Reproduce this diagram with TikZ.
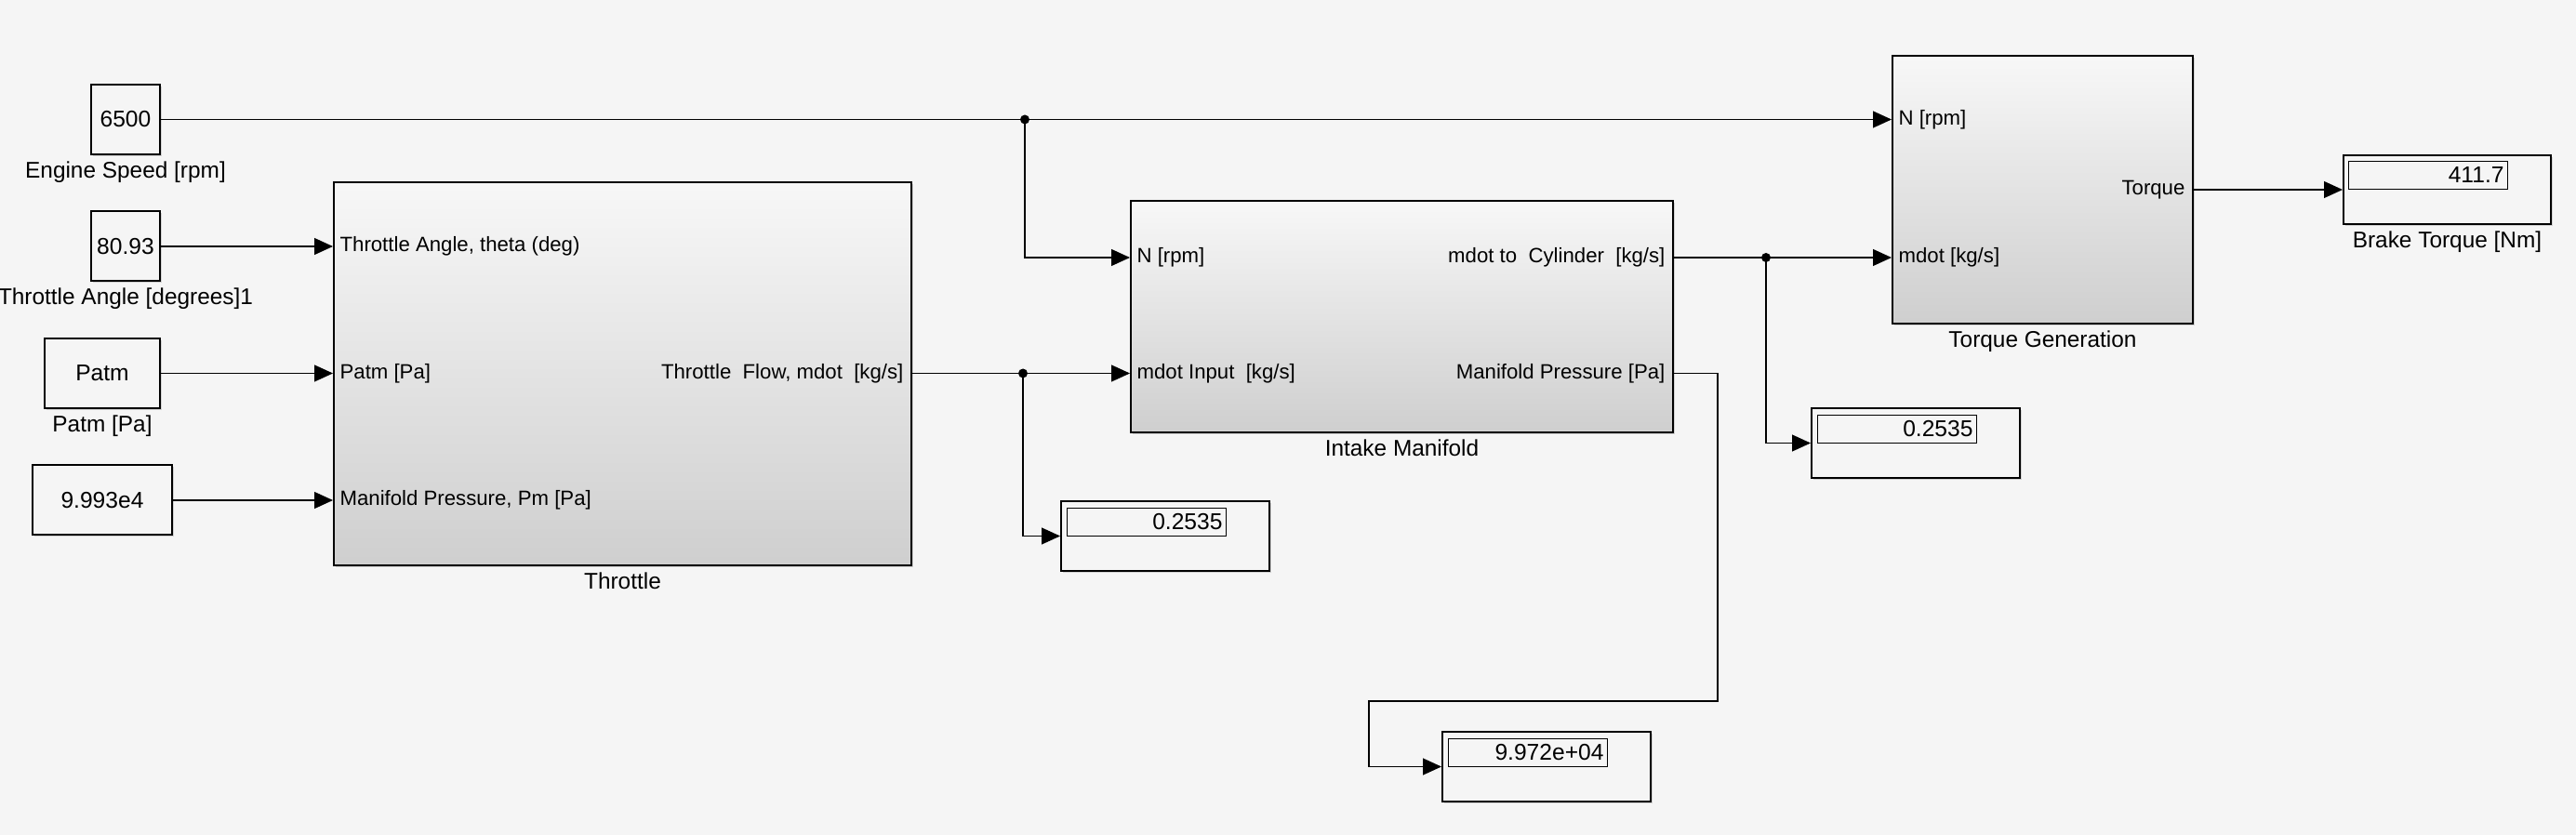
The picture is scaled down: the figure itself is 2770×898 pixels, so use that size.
\documentclass[tikz,border=0pt]{standalone}
\usepackage{fontspec}
\setmainfont{Liberation Sans}
\usetikzlibrary{arrows.meta,shadows,positioning}
\definecolor{canvas}{RGB}{245,245,245}
\colorlet{blocktop}{black!3}
\colorlet{blockmid}{black!7}
\colorlet{blockbot}{black!19}
\newcommand\portfont{\fontsize{11.1}{13}\selectfont}
\newcommand\capfont{\fontsize{12.2}{14}\selectfont}
\newcommand\valfont{\fontsize{12.3}{14}\selectfont}

\begin{document}
\begin{tikzpicture}[x=0.5pt, y=-0.5pt, line width=0.6pt,
    shadowed/.style={drop shadow={shadow xshift=1pt, shadow yshift=-1pt, opacity=0.3}},
    sub block/.style={draw, line width=1pt, anchor=north west, inner sep=0pt, top color=blocktop, middle color=blockmid, bottom color=blockbot, shadowed},
    const block/.style={draw, line width=1pt, fill=canvas, inner sep=0pt, minimum height=37.5pt, font=\valfont, shadowed},
    display/.style={draw, line width=1pt, fill=canvas, anchor=north west, minimum width=112pt, minimum height=37.5pt, inner sep=0pt, shadowed},
    field/.style={draw, line width=0.5pt, fill=canvas, anchor=north west, inner sep=2pt, text width=81.5pt, align=right, minimum height=15pt, font=\valfont},
    caption/.style={font=\capfont, inner sep=0pt},
    port/.style={font=\portfont, inner sep=0pt},
    signal/.style={-{Triangle[length=10pt, width=9pt]}}
  ]
  \fill[canvas] (0,0) rectangle (2770,898);
  \useasboundingbox (0,0) rectangle (2770,898);

  \node[const block, minimum width=37pt] (speed) at (135,128.5) {6500};
  \node[const block, minimum width=37pt] (angle) at (135,265) {80.93};
  \node[const block, minimum width=62pt] (patm) at (110,401.5) {Patm};
  \node[const block, minimum width=75pt] (pm) at (110,538) {9.993e4};

  \node[sub block, minimum width=310.5pt, minimum height=206pt] (thr) at (358,195) {};
  \node[sub block, minimum width=291.5pt, minimum height=124.5pt] (man) at (1215,215) {};
  \node[sub block, minimum width=161.5pt, minimum height=144pt] (tq) at (2034,59) {};

  \node[display] (dmdot) at (1140,538) {};
  \node[display] (dcyl) at (1947,438) {};
  \node[display] (dpm) at (1550,786) {};
  \node[display, minimum width=111.5pt, minimum height=37pt] (dtq) at (2519,166) {};
  \node[field] (dmdotval) at ([xshift=3.5pt, yshift=-4pt]dmdot.north west) {0.2535};
  \node[field] (dcylval) at ([xshift=3.5pt, yshift=-4pt]dcyl.north west) {0.2535};
  \node[field] (dpmval) at ([xshift=3.5pt, yshift=-4pt]dpm.north west) {9.972e+04};
  \node[field] (dtqval) at ([xshift=3pt, yshift=-3.5pt]dtq.north west) {411.7};

  \node[caption, below=3pt of speed] (speedlab) {Engine Speed [rpm]};
  \node[caption, below=3pt of angle] (anglelab) {Throttle Angle [degrees]1};
  \node[caption, below=3pt of patm] (patmlab) {Patm [Pa]};
  \node[caption, below=3pt of thr] (thrlab) {Throttle};
  \node[caption, below=3pt of man] (manlab) {Intake Manifold};
  \node[caption, below=3pt of tq] (tqlab) {Torque Generation};
  \node[caption, below=3pt of dtq] (dtqlab) {Brake Torque [Nm]};

  \coordinate (thr-out) at (thr.east |- patm.east);
  \coordinate (man-n) at (1215,277);
  \coordinate (man-mdot) at (thr-out -| man.west);
  \coordinate (man-cyl) at (man-n -| man.east);
  \coordinate (man-pm) at (man-mdot -| man.east);
  \coordinate (tq-n) at (speed.east -| tq.west);
  \coordinate (tq-mdot) at (man-n -| tq.west);
  \coordinate (tq-out) at (dtq.west -| tq.east);
  \coordinate (jn) at (1102,128.5);
  \coordinate (jm) at (1100,401.5);
  \coordinate (jc) at (1899,277);

  \begin{scope}[every node/.style={port}]
    \node[anchor=west] at ([xshift=3.5pt]angle.east -| thr.west) {Throttle Angle, theta (deg)};
    \node[anchor=west] at ([xshift=3.5pt]patm.east -| thr.west) {Patm [Pa]};
    \node[anchor=west] at ([xshift=3.5pt]pm.east -| thr.west) {Manifold Pressure, Pm [Pa]};
    \node[anchor=east] at ([xshift=-4.5pt]thr-out) {Throttle\ \ Flow, mdot\ \ [kg/s]};
    \node[anchor=west] at ([xshift=3.5pt]man-n) {N [rpm]};
    \node[anchor=west] at ([xshift=3.5pt]man-mdot) {mdot Input\ \ [kg/s]};
    \node[anchor=east] at ([xshift=-4.5pt]man-cyl) {mdot to\ \ Cylinder\ \ [kg/s]};
    \node[anchor=east] at ([xshift=-4.5pt]man-pm) {Manifold Pressure [Pa]};
    \node[anchor=west] at ([xshift=3.5pt]tq-n) {N [rpm]};
    \node[anchor=west] at ([xshift=3.5pt]tq-mdot) {mdot [kg/s]};
    \node[anchor=east] at ([xshift=-4.5pt]tq-out) {Torque};
  \end{scope}

  \draw[signal] (speed.east) -- (tq-n);
  \draw[signal] (jn) |- (man-n);
  \draw[signal] (angle.east) -- (angle.east -| thr.west);
  \draw[signal] (patm.east) -- (patm.east -| thr.west);
  \draw[signal] (pm.east) -- (pm.east -| thr.west);
  \draw[signal] (thr-out) -- (man-mdot);
  \draw[signal] (jm) |- (dmdot.west);
  \draw[signal] (man-cyl) -- (tq-mdot);
  \draw[signal] (jc) |- (dcyl.west);
  \draw[signal] (man-pm) -- (1847,401.5) -- (1847,754) -- (1472,754) |- (dpm.west);
  \draw[signal] (tq-out) -- (dtq.west);
  \foreach \j in {jn,jm,jc}
    \fill (\j) circle[radius=2.5pt];
\end{tikzpicture}
\end{document}
